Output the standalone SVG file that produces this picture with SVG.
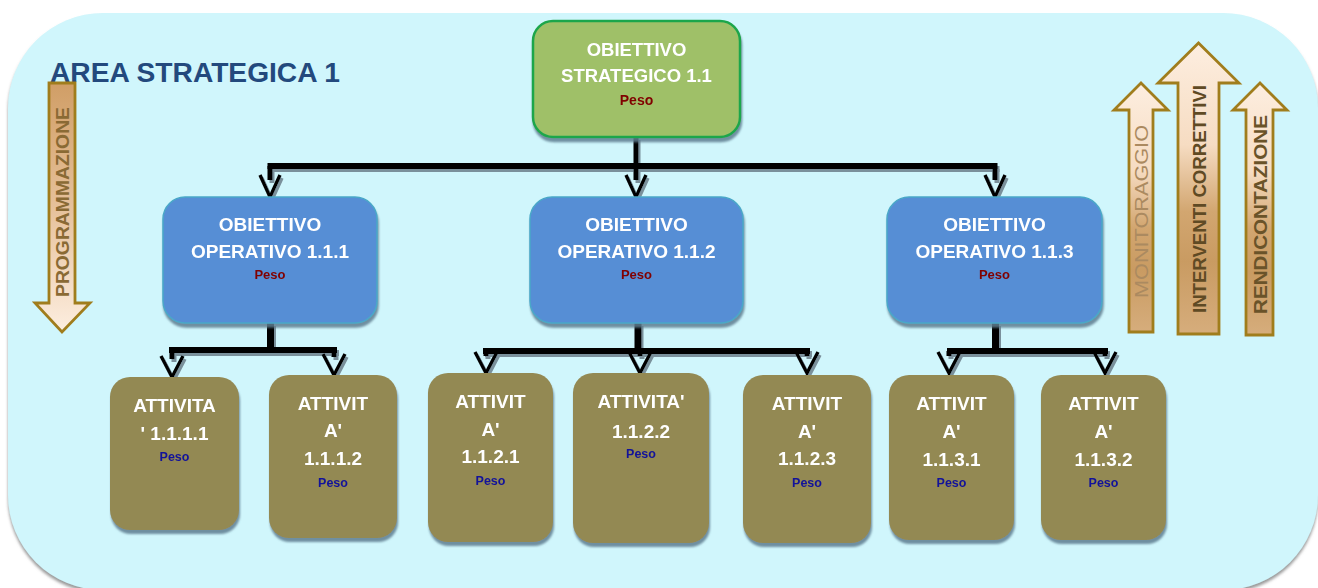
<svg xmlns="http://www.w3.org/2000/svg" width="1318" height="588" viewBox="0 0 1318 588">
<defs>
<style>
.t{font-family:"Liberation Sans",Arial,sans-serif;font-weight:bold;fill:#ffffff;text-anchor:middle;font-size:19px}
.pr{fill:#800000;font-size:13px}
.pb{fill:#12129a;font-size:12.5px}
.green{fill:#9fc068;stroke:#1fa64b;stroke-width:2.5}
.blue{fill:#568ed5;stroke:#4aa8c8;stroke-width:1.5}
.olive{fill:#938953}
.arr{stroke:#a07d1c;stroke-width:2.8;stroke-linejoin:miter}
.lbl{font-family:"Liberation Sans",Arial,sans-serif;text-anchor:middle}
.ln{fill:none;stroke:#000;stroke-linecap:butt}
.chev{fill:none;stroke:#000;stroke-width:3.4;stroke-linejoin:miter}
</style>
<filter id="sh" x="-10%" y="-10%" width="120%" height="130%">
<feDropShadow dx="1" dy="4" stdDeviation="0.8" flood-color="#5d7d8f" flood-opacity="0.85"/>
</filter>
<filter id="lsh" x="-5%" y="-20%" width="110%" height="160%">
<feDropShadow dx="2" dy="3" stdDeviation="0.6" flood-color="#6f8590" flood-opacity="0.9"/>
</filter>
<filter id="bgsh" x="-5%" y="-5%" width="110%" height="115%">
<feDropShadow dx="0" dy="3" stdDeviation="1.5" flood-color="#808080" flood-opacity="0.8"/>
</filter>
<linearGradient id="gUp" x1="0" y1="0" x2="0" y2="1">
<stop offset="0" stop-color="#fdeee0"/>
<stop offset="0.35" stop-color="#f6dcc2"/>
<stop offset="0.58" stop-color="#d2a670"/>
<stop offset="0.75" stop-color="#c99b62"/>
<stop offset="1" stop-color="#d6ad7c"/>
</linearGradient>
<linearGradient id="gDown" x1="0" y1="0" x2="0" y2="1">
<stop offset="0" stop-color="#d09e66"/>
<stop offset="0.5" stop-color="#e6c19b"/>
<stop offset="1" stop-color="#fdeee0"/>
</linearGradient>
<path id="chv1" class="chev" d="M-10,-22 L0,0 L10,-22"/>
<path id="chv2" class="chev" d="M-11,-21 L0,0 L11,-21"/>
</defs>

<g id="background">
<rect x="8" y="13" width="1310" height="577" rx="95" ry="95" fill="#d0f6fc" filter="url(#bgsh)"/>
<text x="50" y="82" class="lbl" textLength="290" lengthAdjust="spacingAndGlyphs" style="text-anchor:start;font-weight:bold;font-size:27.5px;fill:#23497d">AREA STRATEGICA 1</text>
</g>

<g id="programmazione">
<polygon class="arr" fill="url(#gDown)" points="49,83 75,83 75,303 90,303 62,332 35,303 49,303"/>
<text class="lbl" x="62" y="209" transform="rotate(-90 62 202)" textLength="190" lengthAdjust="spacingAndGlyphs" style="font-weight:bold;font-size:18px;fill:#8a6a34">PROGRAMMAZIONE</text>
</g>

<g id="monitoraggio">
<polygon class="arr" fill="url(#gUp)" points="1129,332 1129,110 1114,110 1141,83 1168,110 1153,110 1153,332"/>
<text class="lbl" x="1141" y="218.5" transform="rotate(-90 1141 211.5)" textLength="173" lengthAdjust="spacingAndGlyphs" style="font-size:19px;fill:#ab8a60">MONITORAGGIO</text>
</g>

<g id="interventi">
<polygon class="arr" fill="url(#gUp)" points="1178,334 1178,83 1158,83 1198.5,43 1239,83 1219,83 1219,334"/>
<text class="lbl" x="1198.5" y="206" transform="rotate(-90 1198.5 199)" textLength="228" lengthAdjust="spacingAndGlyphs" style="font-weight:bold;font-size:18.5px;fill:#5f4a24">INTERVENTI CORRETTIVI</text>
</g>

<g id="rendicontazione">
<polygon class="arr" fill="url(#gUp)" points="1246,335 1246,110 1233,110 1260,83 1287,110 1273,110 1273,335"/>
<text class="lbl" x="1260" y="221.5" transform="rotate(-90 1260 214.5)" textLength="199" lengthAdjust="spacingAndGlyphs" style="font-weight:bold;font-size:19px;fill:#6a5329">RENDICONTAZIONE</text>
</g>

<g id="connectors" filter="url(#lsh)">
<path class="ln" stroke-width="5" d="M636,137 V166"/>
<path class="ln" stroke-width="6" d="M267.5,166 H997.5"/>
<path class="ln" stroke-width="5" d="M270,166 V180 M636,166 V180 M995,166 V180"/>
<use href="#chv1" x="270" y="197"/>
<use href="#chv1" x="636" y="197"/>
<use href="#chv1" x="995" y="197"/>

<path class="ln" stroke-width="7" d="M270.5,323 V350"/>
<path class="ln" stroke-width="6" d="M169,350 H337"/>
<path class="ln" stroke-width="5" d="M172,350 V359 M334,350 V357"/>
<use href="#chv2" x="172" y="377"/>
<use href="#chv2" x="334" y="375"/>

<path class="ln" stroke-width="7" d="M638,323 V351"/>
<path class="ln" stroke-width="6" d="M483,351 H810"/>
<path class="ln" stroke-width="5" d="M486,351 V356 M640,351 V356 M807,351 V356"/>
<use href="#chv2" x="486" y="373"/>
<use href="#chv2" x="640" y="373"/>
<use href="#chv2" x="807" y="373"/>

<path class="ln" stroke-width="7" d="M995.5,323 V351"/>
<path class="ln" stroke-width="6" d="M947,351 H1108"/>
<path class="ln" stroke-width="5" d="M949,351 V356 M1105,351 V356"/>
<use href="#chv2" x="949" y="373"/>
<use href="#chv2" x="1105" y="373"/>
</g>

<g id="obiettivo-strategico-1-1">
<rect class="green" x="533" y="21" width="207" height="116" rx="20" filter="url(#sh)"/>
<text class="t" x="636.5" y="56" style="font-size:18.5px">OBIETTIVO</text>
<text class="t" x="636.5" y="82" style="font-size:18.5px">STRATEGICO 1.1</text>
<text class="t pr" x="636.5" y="105" style="font-size:14px">Peso</text>
</g>

<g id="obiettivo-operativo-1-1-1">
<rect class="blue" x="163" y="197" width="214" height="126" rx="22" filter="url(#sh)"/>
<text class="t" x="270" y="231">OBIETTIVO</text>
<text class="t" x="270" y="258">OPERATIVO 1.1.1</text>
<text class="t pr" x="270" y="279">Peso</text>
</g>

<g id="obiettivo-operativo-1-1-2">
<rect class="blue" x="530" y="197" width="213" height="126" rx="22" filter="url(#sh)"/>
<text class="t" x="636.5" y="231">OBIETTIVO</text>
<text class="t" x="636.5" y="258">OPERATIVO 1.1.2</text>
<text class="t pr" x="636.5" y="279">Peso</text>
</g>

<g id="obiettivo-operativo-1-1-3">
<rect class="blue" x="887" y="197" width="215" height="126" rx="22" filter="url(#sh)"/>
<text class="t" x="994.5" y="231">OBIETTIVO</text>
<text class="t" x="994.5" y="258">OPERATIVO 1.1.3</text>
<text class="t pr" x="994.5" y="279">Peso</text>
</g>

<g id="attivita-1-1-1-1">
<rect class="olive" x="110" y="377" width="129" height="153" rx="20" filter="url(#sh)"/>
<text class="t" x="174.5" y="412">ATTIVITA</text>
<text class="t" x="174.5" y="440">' 1.1.1.1</text>
<text class="t pb" x="174.5" y="461">Peso</text>
</g>

<g id="attivita-1-1-1-2">
<rect class="olive" x="269" y="375" width="128" height="163" rx="20" filter="url(#sh)"/>
<text class="t" x="333" y="410">ATTIVIT</text>
<text class="t" x="333" y="437">A'</text>
<text class="t" x="333" y="465">1.1.1.2</text>
<text class="t pb" x="333" y="487">Peso</text>
</g>

<g id="attivita-1-1-2-1">
<rect class="olive" x="428" y="373" width="125" height="169" rx="20" filter="url(#sh)"/>
<text class="t" x="490.5" y="408">ATTIVIT</text>
<text class="t" x="490.5" y="436">A'</text>
<text class="t" x="490.5" y="463">1.1.2.1</text>
<text class="t pb" x="490.5" y="485">Peso</text>
</g>

<g id="attivita-1-1-2-2">
<rect class="olive" x="573" y="373" width="136" height="170" rx="20" filter="url(#sh)"/>
<text class="t" x="641" y="408">ATTIVITA'</text>
<text class="t" x="641" y="438">1.1.2.2</text>
<text class="t pb" x="641" y="458">Peso</text>
</g>

<g id="attivita-1-1-2-3">
<rect class="olive" x="743" y="375" width="128" height="168" rx="20" filter="url(#sh)"/>
<text class="t" x="807" y="410">ATTIVIT</text>
<text class="t" x="807" y="438">A'</text>
<text class="t" x="807" y="465">1.1.2.3</text>
<text class="t pb" x="807" y="487">Peso</text>
</g>

<g id="attivita-1-1-3-1">
<rect class="olive" x="889" y="375" width="125" height="165" rx="20" filter="url(#sh)"/>
<text class="t" x="951.5" y="410">ATTIVIT</text>
<text class="t" x="951.5" y="438">A'</text>
<text class="t" x="951.5" y="466">1.1.3.1</text>
<text class="t pb" x="951.5" y="487">Peso</text>
</g>

<g id="attivita-1-1-3-2">
<rect class="olive" x="1041" y="375" width="125" height="165" rx="20" filter="url(#sh)"/>
<text class="t" x="1103.5" y="410">ATTIVIT</text>
<text class="t" x="1103.5" y="438">A'</text>
<text class="t" x="1103.5" y="466">1.1.3.2</text>
<text class="t pb" x="1103.5" y="487">Peso</text>
</g>
</svg>
